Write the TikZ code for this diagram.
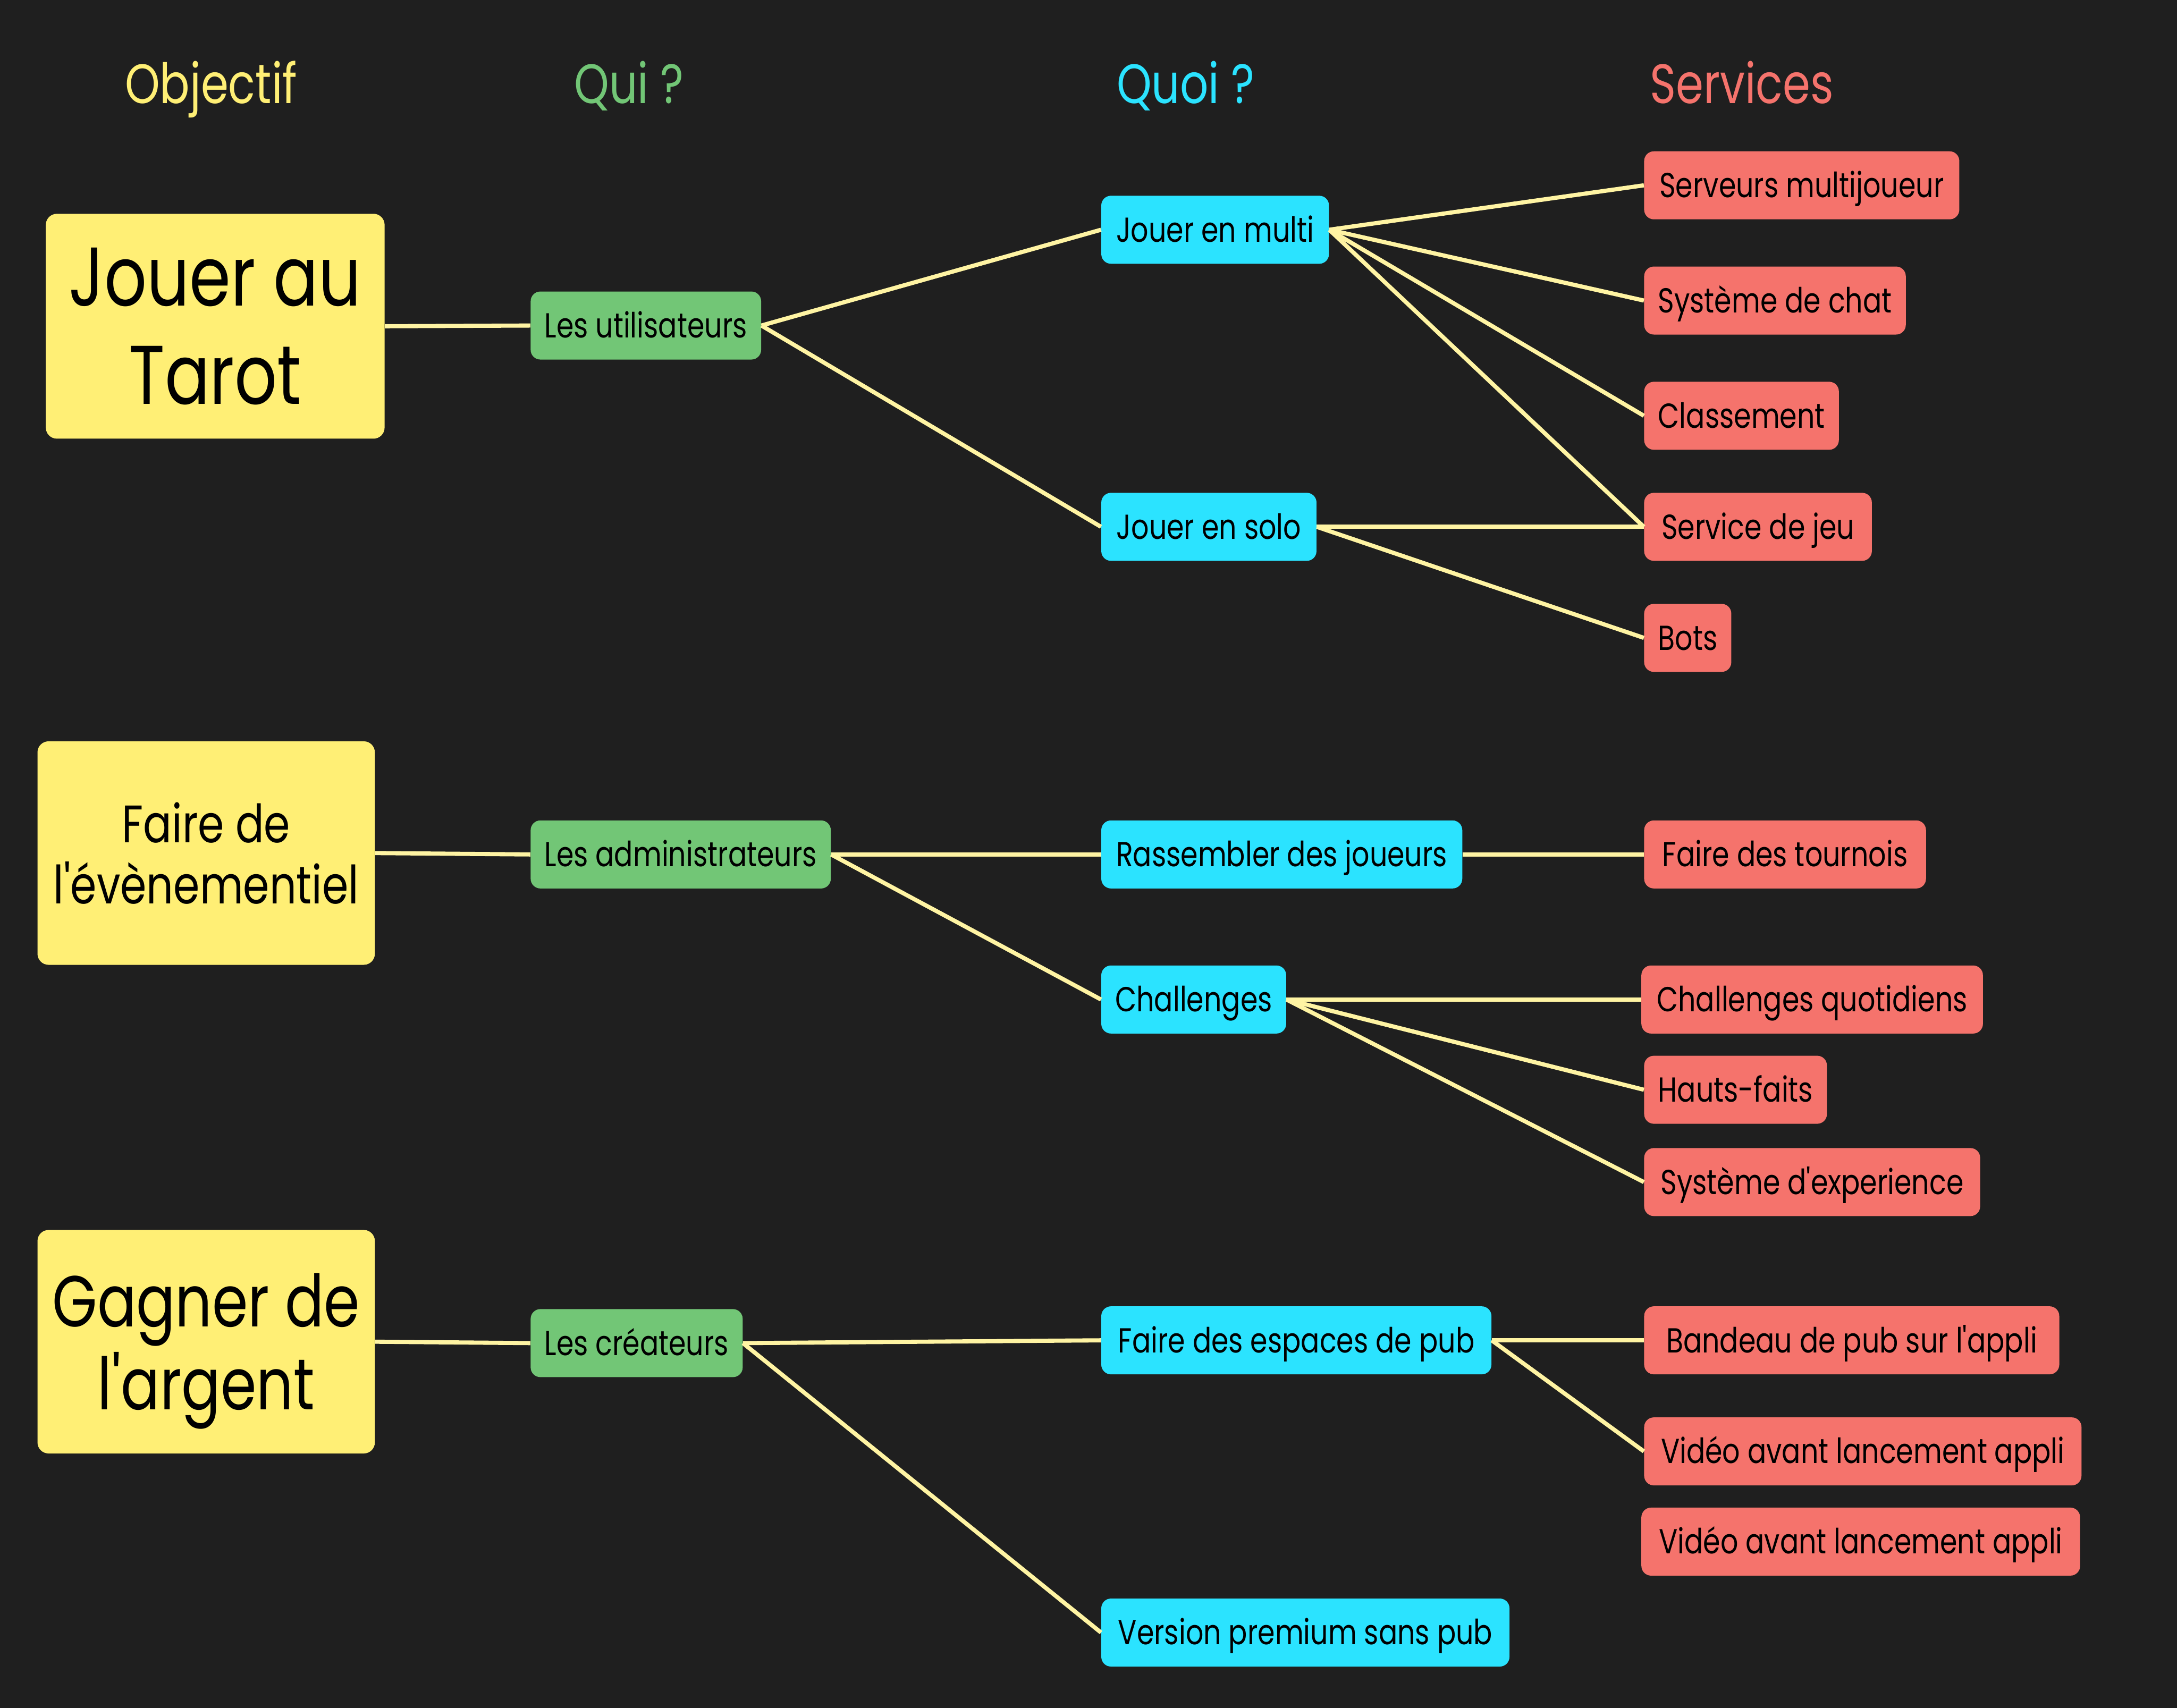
\documentclass[tikz,border=0pt]{standalone}
\usepackage{fontspec}
\setmainfont[FakeStretch=0.8, Ligatures=TeXOff]{Poppins}
\definecolor{bg}{HTML}{1F1F1F}
\definecolor{cyel}{HTML}{FFEF75}
\definecolor{cgrn}{HTML}{72C676}
\definecolor{ccyn}{HTML}{2BE3FF}
\definecolor{cred}{HTML}{F5736C}
\definecolor{cline}{HTML}{FFF4A3}
\begin{document}
\begin{tikzpicture}[x=1pt,y=-1pt,
  box/.style={rounded corners=7pt, inner xsep=10pt, inner ysep=0pt, anchor=west,
    minimum height=49pt, text=black, font=\fontsize{25}{30}\selectfont,
    text height=17.5pt, text depth=0pt},
  big/.style={rounded corners=8pt, fill=cyel, inner sep=0pt, text=black, align=center},
  qui/.style={box, fill=cgrn},
  quoi/.style={box, fill=ccyn},
  serv/.style={box, fill=cred},
  head/.style={font=\fontsize{40}{48}\selectfont, text height=28pt, text depth=0pt, inner sep=0pt},
  link/.style={draw=cline, line width=3pt}]
\fill[bg] (0,0) rectangle (1568,1230.3);
\useasboundingbox (0,0) rectangle (1568,1230.3);

% headers
\node[head, text=cyel] (h1) at (152,60.5) {Objectif};
\node[head, text=cgrn] (h2) at (453,60.5) {Qui ?};
\node[head, text=ccyn] (h3) at (854,60.5) {Quoi ?};
\node[head, text=cred] (h4) at (1254.5,60.5) {Services};

% objectives
\node[big, minimum width=244pt, minimum height=162pt, font=\fontsize{60}{71}\selectfont] (tarot) at (155,235) {Jouer au\\Tarot};
\node[big, minimum width=243pt, minimum height=161pt, font=\fontsize{38}{44}\selectfont] (even) at (148.5,614.5) {Faire de\\l'évènementiel};
\node[big, minimum width=243pt, minimum height=161pt, font=\fontsize{52}{60}\selectfont] (argent) at (148.5,966.5) {Gagner de\\l'ar\smash{g}ent};

% who
\node[qui, minimum width=166pt] (util) at (382,234.5) {Les utilisateurs};
\node[qui, minimum width=214pt] (admin) at (382,615.5) {Les administrateurs};
\node[qui, minimum width=151pt] (crea) at (382,967.5) {Les créateurs};

% what
\node[quoi, minimum width=164pt] (multi) at (793,165.5) {Jouer en multi};
\node[quoi, minimum width=155pt] (solo) at (793,379.5) {Jouer en solo};
\node[quoi, minimum width=260pt] (rass) at (793,615.5) {Rassembler des joueurs};
\node[quoi, minimum width=133pt] (chall) at (793,720) {Challenges};
\node[quoi, minimum width=281pt] (espace) at (793,965.5) {Faire des espaces de pub};
\node[quoi, minimum width=294pt] (prem) at (793,1176) {Version premium sans pub};

% services
\node[serv, minimum width=227pt] (serveurs) at (1184,133.5) {Serveurs multijoueur};
\node[serv, minimum width=186pt] (chat) at (1184,216.5) {Système de chat};
\node[serv, minimum width=136pt] (classe) at (1184,299.5) {Classement};
\node[serv, minimum width=164pt] (jeu) at (1184,379.5) {Service de jeu};
\node[serv, minimum width=61pt] (bots) at (1184,459.5) {Bots};
\node[serv, minimum width=203pt] (tourn) at (1184,615.5) {Faire des tournois};
\node[serv, minimum width=246pt] (quot) at (1182,720) {Challenges quotidiens};
\node[serv, minimum width=128pt] (hauts) at (1184,785) {Hauts-faits};
\node[serv, minimum width=242pt] (exp) at (1184,851.5) {Système d'experience};
\node[serv, minimum width=299pt] (band) at (1184,965.5) {Bandeau de pub sur l'appli};
\node[serv, minimum width=315pt] (vid1) at (1184,1045.5) {Vidéo avant lancement appli};
\node[serv, minimum width=316pt] (vid2) at (1182,1110.5) {Vidéo avant lancement appli};

% links
\draw[link] (tarot.east) -- (util.west);
\draw[link] (util.east) -- (multi.west);
\draw[link] (util.east) -- (solo.west);
\draw[link] (multi.east) -- (serveurs.west);
\draw[link] (multi.east) -- (chat.west);
\draw[link] (multi.east) -- (classe.west);
\draw[link] (multi.east) -- (jeu.west);
\draw[link] (solo.east) -- (jeu.west);
\draw[link] (solo.east) -- (bots.west);
\draw[link] (even.east) -- (admin.west);
\draw[link] (admin.east) -- (rass.west);
\draw[link] (admin.east) -- (chall.west);
\draw[link] (rass.east) -- (tourn.west);
\draw[link] (chall.east) -- (quot.west);
\draw[link] (chall.east) -- (hauts.west);
\draw[link] (chall.east) -- (exp.west);
\draw[link] (argent.east) -- (crea.west);
\draw[link] (crea.east) -- (espace.west);
\draw[link] (crea.east) -- (prem.west);
\draw[link] (espace.east) -- (band.west);
\draw[link] (espace.east) -- (vid1.west);
\end{tikzpicture}
\end{document}
